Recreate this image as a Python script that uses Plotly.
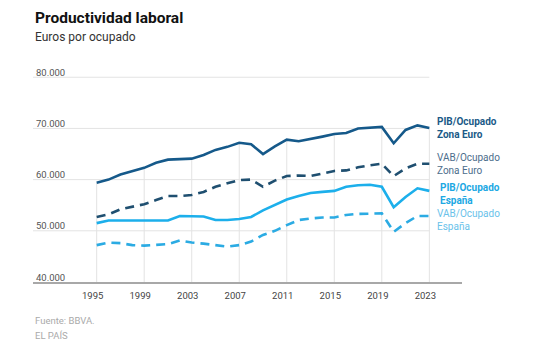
import plotly.graph_objects as go

years = list(range(1995, 2024))
pib_ze = [59400, 60000, 61000, 61700, 62300, 63300, 63900, 64000, 64100, 64800,
          65800, 66400, 67200, 66900, 65000, 66500, 67800, 67500, 67900, 68400,
          68900, 69100, 70000, 70100, 70300, 67100, 69700, 70600, 70100]
vab_ze = [52700, 53200, 54200, 54700, 55200, 56000, 56800, 56800, 57000, 57600,
          58600, 59300, 59900, 60000, 58600, 59800, 60700, 60800, 60700, 61200,
          61700, 61800, 62400, 62800, 63100, 60700, 62200, 63100, 63100]
pib_es = [51500, 52000, 52000, 52000, 52000, 52000, 52000, 52900, 52800, 52800,
          52100, 52100, 52300, 52700, 54000, 55100, 56100, 56800, 57400, 57600,
          57800, 58600, 58900, 59000, 58600, 54600, 56600, 58300, 57800]
vab_es = [47200, 47700, 47600, 47200, 47100, 47300, 47400, 48100, 47700, 47500,
          47200, 46900, 47200, 47900, 49200, 50000, 51100, 52100, 52400, 52600,
          52600, 53100, 53300, 53300, 53400, 49800, 51500, 52900, 52900]

x_ticks = [1995, 1999, 2003, 2007, 2011, 2015, 2019, 2023]
y_ticks = [40000, 50000, 60000, 70000, 80000]
y_tick_labels = ["40.000", "50.000", "60.000", "70.000", "80.000"]

# name, values, line colour, dash, label colour, bold label, label x/y shift
series = [
    ("PIB/Ocupado<br>Zona Euro", pib_ze, "#15598a", "solid", "#1b5a87", True, 6, 0),
    ("VAB/Ocupado<br>Zona Euro", vab_ze, "#1f4f70", "9px,6px", "#4c6d8c", False, 6, 0),
    ("PIB/Ocupado<br>España", pib_es, "#1cafeb", "solid", "#1ca8e3", True, 9, -3),
    ("VAB/Ocupado<br>España", vab_es, "#2babe3", "9px,6px", "#6ac2ea", False, 6, -4),
]

X_RANGE = [1989.64, 2025.75]
Y_RANGE = [40000, 82000]
FONT = "Roboto"

fig = go.Figure()

# vertical drop lines from the top series down to the axis
dx, dy = [], []
for yr in x_ticks:
    v = pib_ze[years.index(yr)]
    dx += [yr, yr, None]
    dy += [v, Y_RANGE[0], None]
fig.add_trace(go.Scatter(x=dx, y=dy, mode="lines", line=dict(color="#e3e3e3", width=1),
                         hoverinfo="skip", showlegend=False))

annotations = []
for name, vals, color, dash, lcolor, bold, xs, ys in series:
    fig.add_trace(go.Scatter(x=years, y=vals, mode="lines", name=name.replace("<br>", " "),
                             line=dict(color=color, width=2.6, dash=dash), showlegend=False))
    txt = f"<b>{name}</b>" if bold else name
    annotations.append(dict(x=years[-1], y=vals[-1], xref="x", yref="y", text=txt,
                            showarrow=False, xanchor="left", yanchor="middle", align="left",
                            xshift=xs, yshift=ys,
                            font=dict(family=FONT, size=10, color=lcolor)))

shapes = []
for v in y_ticks[1:]:
    shapes.append(dict(type="line", xref="x", yref="y", x0=X_RANGE[0], x1=years[-1],
                       y0=v, y1=v, line=dict(color="#e3e3e3", width=1), layer="below"))

for v, lab in zip(y_ticks, y_tick_labels):
    annotations.append(dict(x=0, y=v, xref="paper", yref="y", text=lab, showarrow=False,
                            xanchor="left", yanchor="middle", yshift=5, xshift=1,
                            font=dict(family=FONT, size=9.5, color="#555555")))

# texts placed relative to the plot area
annotations += [
    dict(x=0.0, y=1.228, xref="paper", yref="paper", xanchor="left", yanchor="middle",
         text="<b>Productividad laboral</b>", showarrow=False,
         font=dict(family=FONT, size=15.5, color="#111111")),
    dict(x=0.0, y=1.140, xref="paper", yref="paper", xanchor="left", yanchor="middle",
         text="Euros por ocupado", showarrow=False,
         font=dict(family=FONT, size=12, color="#333333")),
    dict(x=0.0, y=-0.181, xref="paper", yref="paper", xanchor="left", yanchor="middle",
         text="Fuente: BBVA.", showarrow=False,
         font=dict(family=FONT, size=9.5, color="#aaaaaa")),
    dict(x=0.0, y=-0.247, xref="paper", yref="paper", xanchor="left", yanchor="middle",
         text="EL PAÍS", showarrow=False,
         font=dict(family=FONT, size=9.5, color="#aaaaaa")),
]

# the page body adds an 8px offset, so the figure is sized and placed to compensate
fig.update_layout(
    width=541, height=354,
    margin=dict(l=25, r=87, t=59, b=80),
    paper_bgcolor="white", plot_bgcolor="white",
    showlegend=False,
    xaxis=dict(range=X_RANGE, tickvals=x_ticks, ticktext=[str(t) for t in x_ticks],
               showgrid=False, zeroline=False, showline=True, linecolor="#a8a8a8",
               linewidth=1.5, ticks="", ticklabelshift=-4, ticklabelstandoff=4,
               tickfont=dict(family=FONT, size=9.5, color="#444444")),
    yaxis=dict(range=Y_RANGE, showgrid=False, zeroline=False, showticklabels=False,
               showline=False),
    annotations=annotations,
    shapes=shapes,
)

fig.write_html("out.html")
